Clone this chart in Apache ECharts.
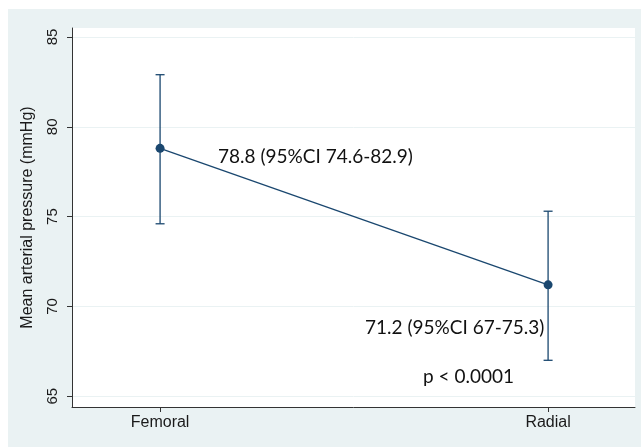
<!DOCTYPE html>
<html>
<head>
<meta charset="utf-8">
<script src="https://cdn.jsdelivr.net/npm/echarts@6/dist/echarts.min.js"></script>
<style>
  html, body { margin: 0; padding: 0; background: #fff; }
  #chart { width: 641px; height: 447px; }
</style>
</head>
<body>
<div id="chart"></div>
<script>
// groups on the x axis
const categories = ['Femoral', 'Radial'];
const means = [78.8, 71.2];
const ciLow = [74.6, 67];
const ciHigh = [82.9, 75.3];
const yTicks = [65, 70, 75, 80, 85];

const navy = '#1a476f';

const chart = echarts.init(document.getElementById('chart'));

const linePoints = categories.map((c, i) => [i + 1, means[i]]);
const barPoints = categories.map((c, i) => [i + 1, ciLow[i], ciHigh[i]]);

const option = {
    animation: false,
    backgroundColor: '#fff',
    graphic: [
        {
            type: 'rect', z: -10, silent: true,
            shape: { x: 8, y: 9, width: 633, height: 438 },
            style: { fill: '#eaf2f3' }
        },
        {
            type: 'text', left: 218, top: 147, z: 10,
            style: { text: '78.8 (95%CI 74.6-82.9)', font: '19px Lato', fill: '#111' }
        },
        {
            type: 'text', left: 365, top: 318, z: 10,
            style: { text: '71.2 (95%CI 67-75.3)', font: '19px Lato', fill: '#111' }
        },
        {
            type: 'text', left: 423, top: 367, z: 10,
            style: { text: 'p < 0.0001', font: '19px Lato', fill: '#111' }
        }
    ],
    grid: {
        left: 72, top: 28, right: 6, bottom: 40,
        show: true, backgroundColor: '#fff', borderWidth: 0
    },
    xAxis: {
        type: 'value',
        min: 0.773,
        max: 2.224,
        axisLine: { show: true, onZero: false, lineStyle: { color: '#333', width: 1 } },
        axisTick: { show: true, length: 5, customValues: [1, 2], lineStyle: { color: '#333' } },
        axisLabel: {
            customValues: [1, 2],
            margin: 8,
            fontSize: 16,
            fontFamily: 'Liberation Sans',
            color: '#1a1a1a',
            formatter: v => categories[Math.round(v) - 1] || ''
        },
        splitLine: { show: false }
    },
    yAxis: {
        type: 'value',
        min: 64.4,
        max: 85.5,
        name: 'Mean arterial pressure (mmHg)',
        nameLocation: 'middle',
        nameGap: 36,
        nameTextStyle: { fontSize: 16, fontFamily: 'Liberation Sans', color: '#1a1a1a' },
        axisLine: { show: true, lineStyle: { color: '#333', width: 1 } },
        axisTick: { show: true, length: 5, customValues: yTicks, lineStyle: { color: '#333' } },
        axisLabel: {
            customValues: yTicks,
            rotate: 90,
            margin: 12,
            fontSize: 15,
            fontFamily: 'Liberation Sans',
            color: '#1a1a1a'
        },
        splitLine: { show: true, lineStyle: { color: '#eaf2f3', width: 1 } }
    },
    series: [
        {
            type: 'custom',
            data: barPoints,
            z: 2,
            renderItem: (params, api) => {
                const x = api.value(0);
                const lo = api.coord([x, api.value(1)]);
                const hi = api.coord([x, api.value(2)]);
                const half = 4.5;
                const style = { stroke: navy, lineWidth: 1.3 };
                return {
                    type: 'group',
                    children: [
                        { type: 'line', shape: { x1: lo[0], y1: lo[1], x2: hi[0], y2: hi[1] }, style },
                        { type: 'line', shape: { x1: lo[0] - half, y1: lo[1], x2: lo[0] + half, y2: lo[1] }, style },
                        { type: 'line', shape: { x1: hi[0] - half, y1: hi[1], x2: hi[0] + half, y2: hi[1] }, style }
                    ]
                };
            }
        },
        {
            type: 'line',
            data: linePoints,
            z: 3,
            symbol: 'circle',
            symbolSize: 9,
            itemStyle: { color: navy },
            lineStyle: { color: navy, width: 1.3 }
        }
    ]
};

chart.setOption(option);
</script>
</body>
</html>
